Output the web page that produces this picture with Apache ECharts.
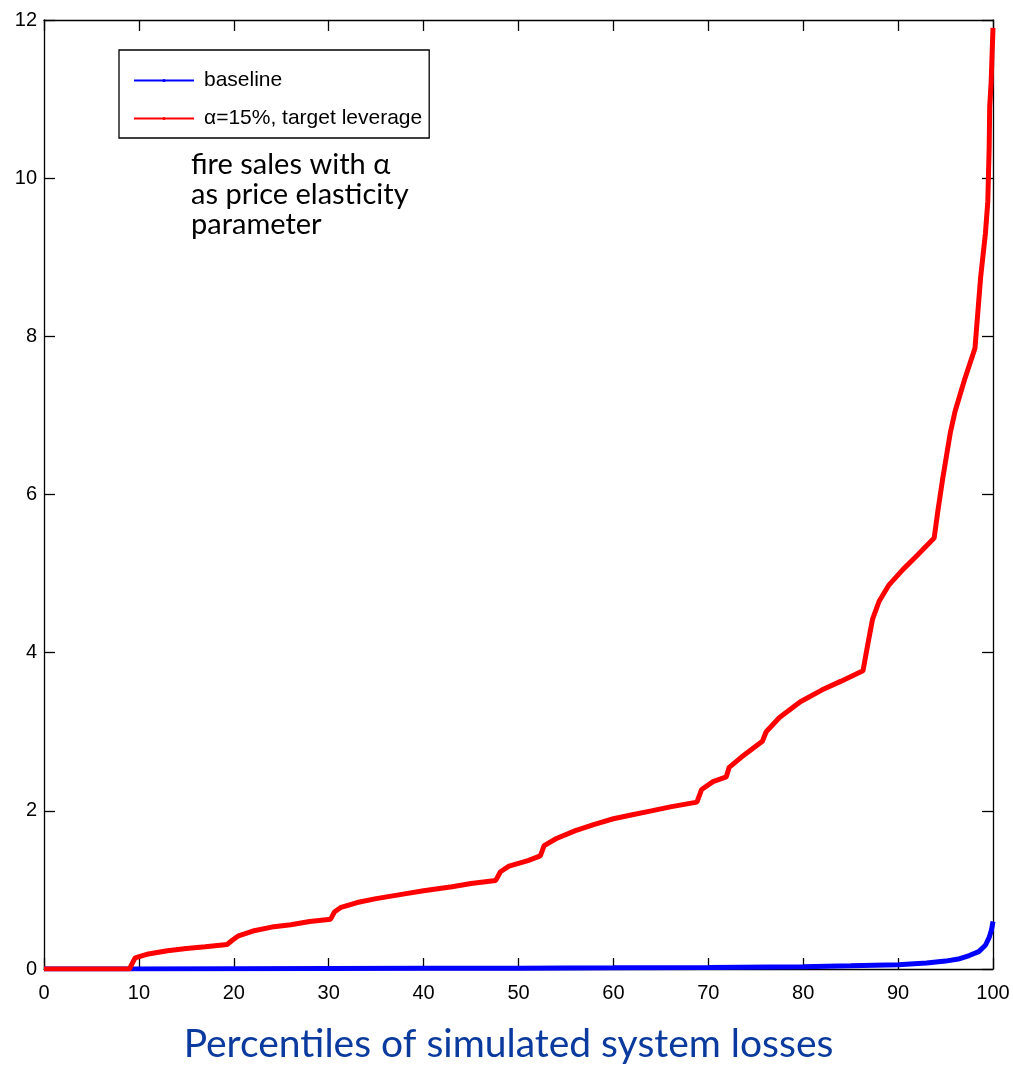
<!DOCTYPE html>
<html>
<head>
<meta charset="utf-8">
<script src="https://cdn.jsdelivr.net/npm/echarts@6/dist/echarts.min.js"></script>
<style>html,body{margin:0;padding:0;background:#fff}#c{width:1013px;height:1065px}</style>
</head>
<body>
<div id="c"></div>
<script>
const xTicks = [0, 10, 20, 30, 40, 50, 60, 70, 80, 90, 100];
const yTicks = [0, 2, 4, 6, 8, 10, 12];
const seriesNames = ['baseline', 'α=15%, target leverage'];
const baselineX = [0, 9, 20, 30, 40, 50, 60, 70, 80, 85, 90, 93, 95, 96.5, 97.5, 98.5, 99.2, 99.6, 99.85, 100];
const baselineY = [0, 0, 0.003, 0.006, 0.008, 0.011, 0.015, 0.02, 0.03, 0.04, 0.055, 0.075, 0.1, 0.13, 0.17, 0.22, 0.3, 0.4, 0.5, 0.6];
const fireX = [0, 9, 9.3, 9.6, 11, 13, 15, 17, 19.3, 19.8, 20.5, 22, 24, 26, 28, 30.2, 30.6, 31.3, 33, 35, 38, 40, 43, 45, 47.6, 48.1, 49, 51, 52.3, 52.7, 54, 56, 58, 60, 62, 64, 66, 68.8, 69.3, 70.5, 71.9, 72.2, 73.5, 75.7, 76.1, 77.5, 79.7, 82, 84, 86.3, 86.8, 87.3, 88, 89, 90.5, 92, 93.8, 94.2, 94.7, 95.5, 96, 97, 98.1, 98.4, 98.7, 99.2, 99.45, 99.6, 99.65, 99.8, 100];
const fireY = [0, 0, 0.07, 0.14, 0.19, 0.23, 0.26, 0.28, 0.31, 0.36, 0.42, 0.48, 0.53, 0.56, 0.6, 0.63, 0.72, 0.78, 0.84, 0.89, 0.95, 0.99, 1.04, 1.08, 1.12, 1.23, 1.3, 1.37, 1.43, 1.56, 1.65, 1.75, 1.83, 1.9, 1.95, 2.0, 2.05, 2.11, 2.27, 2.37, 2.43, 2.55, 2.68, 2.88, 3.0, 3.18, 3.38, 3.53, 3.64, 3.77, 4.1, 4.42, 4.65, 4.85, 5.05, 5.23, 5.45, 5.8, 6.2, 6.78, 7.05, 7.45, 7.85, 8.3, 8.75, 9.3, 9.7, 10.4, 10.9, 11.2, 11.9];
const xTitle = 'Percentiles of simulated system losses';
const noteLines = ['fire sales with α', 'as price elasticity', 'parameter'];

const pair = (xs, ys) => xs.map((x, i) => [x, ys[i]]);
const chart = echarts.init(document.getElementById('c'));
const tickFont = { color: '#000', fontSize: 20, fontFamily: 'Liberation Sans, Arial, sans-serif' };
const axLine = { show: true, onZero: false, lineStyle: { color: '#000', width: 1.3 } };
const axTick = { show: true, inside: true, length: 11, lineStyle: { color: '#000', width: 1.3 } };
chart.setOption({
  animation: false,
  backgroundColor: '#fff',
  grid: { left: 44, right: 20, top: 20, bottom: 96, containLabel: false, outerBoundsMode: 'none' },
  legend: {
    orient: 'vertical', left: 119, top: 50,
    data: seriesNames,
    backgroundColor: '#fff',
    borderColor: '#000', borderWidth: 1.3,
    padding: [20, 7, 9, 14],
    itemWidth: 60, itemHeight: 4, itemGap: 17,
    lineStyle: { width: 2 },
    textStyle: { color: '#000', fontSize: 21, fontFamily: 'Liberation Sans, Arial, sans-serif', padding: [0, 0, 0, 5], lineHeight: 20 }
  },
  xAxis: [{
    type: 'value', min: xTicks[0], max: xTicks[xTicks.length - 1], interval: 10,
    axisLine: axLine, axisTick: axTick, splitLine: { show: false },
    axisLabel: Object.assign({ margin: 14 }, tickFont),
    name: xTitle, nameLocation: 'middle', nameGap: 56,
    nameTextStyle: { color: '#0a3a9e', fontSize: 39, fontFamily: 'Lato, Open Sans, sans-serif', padding: [0, 20, 0, 0] }
  }, {
    type: 'value', position: 'top', min: 0, max: 100, interval: 10,
    axisLine: axLine, axisTick: axTick, axisLabel: { show: false }, splitLine: { show: false }
  }],
  yAxis: [{
    type: 'value', min: yTicks[0], max: yTicks[yTicks.length - 1], interval: 2,
    axisLine: axLine, axisTick: axTick, splitLine: { show: false },
    axisLabel: Object.assign({ margin: 7 }, tickFont)
  }, {
    type: 'value', position: 'right', min: 0, max: 12, interval: 2,
    axisLine: axLine, axisTick: axTick, axisLabel: { show: false }, splitLine: { show: false }
  }],
  series: [{
    name: seriesNames[0], type: 'line', symbol: 'circle', symbolSize: 3, showSymbol: false, smooth: false,
    lineStyle: { color: '#0000ff', width: 5 }, itemStyle: { color: '#0000ff' },
    data: pair(baselineX, baselineY), z: 3
  }, {
    name: seriesNames[1], type: 'line', symbol: 'circle', symbolSize: 3, showSymbol: false, smooth: false,
    lineStyle: { color: '#ff0000', width: 5 }, itemStyle: { color: '#ff0000' },
    data: pair(fireX, fireY), z: 4
  }],
  graphic: [{
    type: 'text', left: 191, top: 150, z: 10,
    style: { text: noteLines.join('\n'), fill: '#000', fontSize: 29, lineHeight: 30, fontFamily: 'Lato, Open Sans, sans-serif' }
  }]
});
</script>
</body>
</html>
